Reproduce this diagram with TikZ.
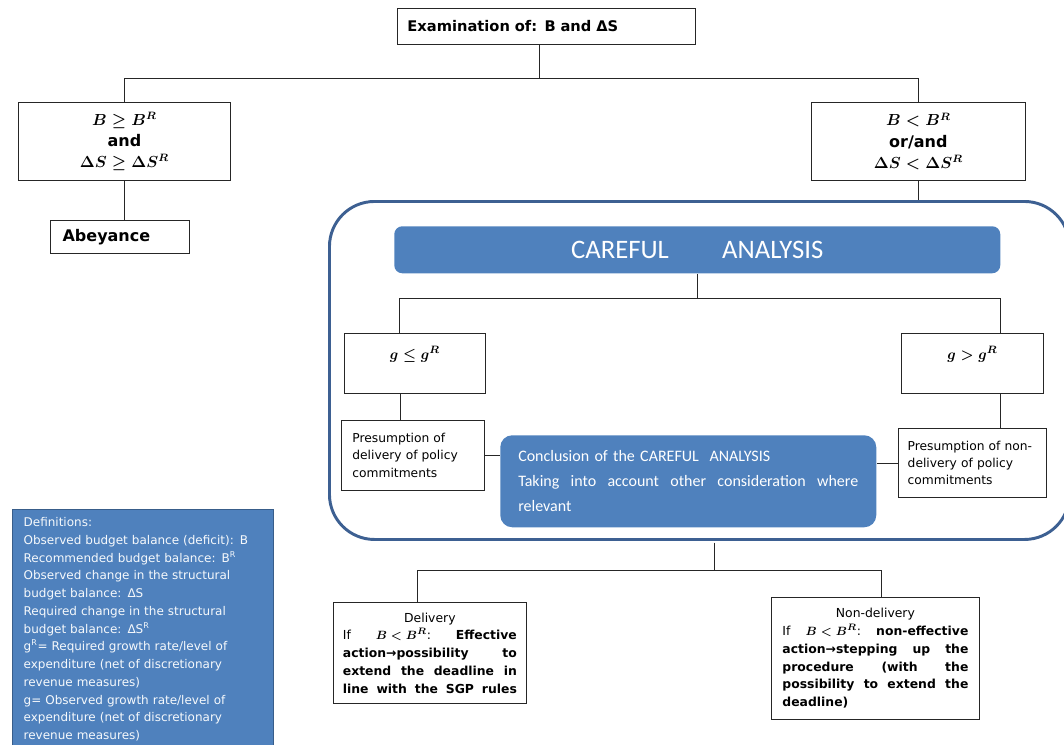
\documentclass[tikz,border=0pt]{standalone}
\usepackage{amsmath,amssymb}
\usepackage{fontspec}
\setmainfont{DejaVu Sans}
\newfontfamily\calfont{Carlito}
\usetikzlibrary{positioning}
\definecolor{ecblue}{RGB}{79,129,189}
\definecolor{ecframe}{RGB}{61,96,146}
\definecolor{ecedge}{RGB}{56,93,138}
\newcommand\jl[1]{\makebox[\linewidth][l]{#1}}

\begin{document}
\begin{tikzpicture}[x=0.75pt,y=-0.75pt, every node/.style={font=\fontsize{12}{16}\selectfont}]
    \tikzset{box/.style={draw=black!85,line width=0.6pt,anchor=north west,inner ysep=0pt}}
    \tikzset{shade/.style={fill=ecblue,text=white,anchor=north west,inner ysep=0pt}}
    \tikzset{link/.style={line width=0.6pt,black!85}}
    \tikzset{small/.style={font=\fontsize{9.2}{13.1}\selectfont}}
    \tikzset{outcome/.style={box,align=left,font=\fontsize{9.3}{13.3}\selectfont}}
    \useasboundingbox (0,0) rectangle (1064,744);

    % Top (Examination)
    \node[box,minimum width=223.5pt,minimum height=27pt,text width=208.5pt,inner xsep=7.5pt,align=left,font=\bfseries\fontsize{11}{12}\selectfont] (exam) at (397,8) {Examination of: B and ΔS};

    % Conditions
    \node[box,minimum width=159pt,minimum height=58.5pt,text width=150pt,align=center] (lcond) at (18,102) {$\boldsymbol{B\geq B^{R}}$\\ \textbf{and}\\ $\boldsymbol{\Delta S\geq \Delta S^{R}}$};
    \node[box,minimum width=160.5pt,minimum height=58.5pt,text width=152pt,align=center] (rcond) at (811,102) {$\boldsymbol{B< B^{R}}$\\ \textbf{or/and}\\ $\boldsymbol{\Delta S< \Delta S^{R}}$};
    \node[box,minimum width=104.25pt,minimum height=24.75pt,text width=86pt,inner xsep=9pt,align=left,font=\bfseries\fontsize{12}{14}\selectfont] (abey) at (50,220) {Abeyance};

    % Careful analysis frame
    \node[draw=ecframe,line width=2.2pt,rounded corners=33.75pt,minimum width=555pt,minimum height=253.5pt,anchor=north west,inner sep=0pt] (frame) at (328,200) {};
    \node[shade,rounded corners=6pt,minimum width=454.5pt,minimum height=35.25pt,font=\calfont\fontsize{20}{24}\selectfont] (careful) at (394,226) {CAREFUL\hspace{40pt}ANALYSIS};

    % Growth tests
    \node[box,minimum width=105.75pt,minimum height=45pt,text width=98pt,align=center,font=\fontsize{11}{16}\selectfont] (gle) at (344,333) {$\boldsymbol{g\leq g^{R}}$\\ \mbox{}};
    \node[box,minimum width=106.5pt,minimum height=45pt,text width=98pt,align=center,font=\fontsize{11}{16}\selectfont] (ggt) at (901,333) {$\boldsymbol{g> g^{R}}$\\ \mbox{}};

    % Presumptions and conclusion
    \node[box,small,minimum width=107.25pt,minimum height=52.5pt,text width=91pt,inner xsep=8.25pt,align=left] (pdel) at (341,420) {Presumption of\\ delivery of policy\\ commitments};
    \node[box,small,minimum width=111pt,minimum height=51.75pt,text width=97pt,inner xsep=7pt,align=left] (pnon) at (898,428) {Presumption of non-\\ delivery of policy\\ commitments};
    \node[shade,rounded corners=9pt,minimum width=282pt,minimum height=69pt,text width=255pt,inner xsep=13.5pt,align=left,font=\calfont\fontsize{12}{18.75}\selectfont] (concl) at (500,435) {Conclusion of the CAREFUL\ \ ANALYSIS\\ \jl{Taking\hfill into\hfill account\hfill other\hfill consideration\hfill where}\\ relevant};

    % Outcomes
    \node[outcome,minimum width=144.75pt,minimum height=75.75pt,text width=130.5pt,inner xsep=7.1pt] (deliv) at (333,602) {\makebox[\linewidth]{Delivery}\\
      \jl{If\hfill\mbox{$\boldsymbol{B<B^{R}}$}:\hfill\textbf{Effective}}\\
      \jl{\textbf{action→possibility\hfill to}}\\
      \jl{\textbf{extend\hfill the\hfill deadline\hfill in}}\\
      \jl{\textbf{line\hfill with\hfill the\hfill SGP\hfill rules}}};
    \node[outcome,minimum width=156pt,minimum height=91.5pt,text width=139.5pt,inner xsep=8.25pt] (nondel) at (771,597) {\makebox[\linewidth]{Non-delivery}\\
      \jl{If\hfill\mbox{$\boldsymbol{B<B^{R}}$}:\hfill\textbf{non-effective}}\\
      \jl{\textbf{action→stepping\hfill up\hfill the}}\\
      \jl{\textbf{procedure\hfill (with\hfill the}}\\
      \jl{\textbf{possibility\hfill to\hfill extend\hfill the}}\\
      \textbf{deadline)}};

    % Definitions
    \node[fill=ecblue,draw=ecedge,line width=1pt,text=white!95!ecblue,anchor=north west,minimum width=195.75pt,text width=179.25pt,inner xsep=8.25pt,inner ysep=6pt,align=left,font=\fontsize{9}{13.3}\selectfont] (defs) at (12,509) {Definitions:\\
      Observed budget balance (deficit): B\\
      Recommended budget balance: B\textsuperscript{R}\\
      Observed change in the structural\\
      budget balance: ΔS\\
      Required change in the structural\\
      budget balance: ΔS\textsuperscript{R}\\
      g\textsuperscript{R}= Required growth rate/level of\\
      expenditure (net of discretionary\\
      revenue measures)\\
      g= Observed growth rate/level of\\
      expenditure (net of discretionary\\
      revenue measures)};

    % Connectors: top split
    \coordinate (edrop) at ([xshift=-5.25pt]exam.south);
    \draw[link] (edrop) -- ++(0,34) coordinate (split1);
    \draw[link] (lcond.north) |- (split1) -| (rcond.north);
    \draw[link] (lcond.south) -- (abey.north -| lcond.south);
    \draw[link] (rcond.south) -- (frame.north -| rcond.south);

    % Connectors: growth split
    \draw[link] (careful.south) -- ++(0,25) coordinate (split2);
    \coordinate (gltop) at ([xshift=-11.6pt]gle.north);
    \coordinate (ggtop) at ([xshift=21pt]ggt.north);
    \draw[link] (gltop) |- (split2) -| (ggtop);
    \coordinate (glbot) at ([xshift=-10.9pt]gle.south);
    \coordinate (ggbot) at ([xshift=21pt]ggt.south);
    \draw[link] (glbot) -- (glbot |- pdel.north);
    \draw[link] (ggbot) -- (ggbot |- pnon.north);
    \draw[link] (pdel.east) -- (pdel.east -| concl.west);
    \draw[link] (pnon.west) -- (pnon.west -| concl.east);

    % Connectors: bottom split
    \coordinate (fdrop) at ([xshift=11.25pt,yshift=-1.2pt]frame.south);
    \draw[link] (fdrop) -- ++(0,28) coordinate (split3);
    \coordinate (dtop) at ([xshift=-9.4pt]deliv.north);
    \coordinate (ntop) at ([xshift=4.5pt]nondel.north);
    \draw[link] (dtop) |- (split3) -| (ntop);
\end{tikzpicture}
\end{document}
